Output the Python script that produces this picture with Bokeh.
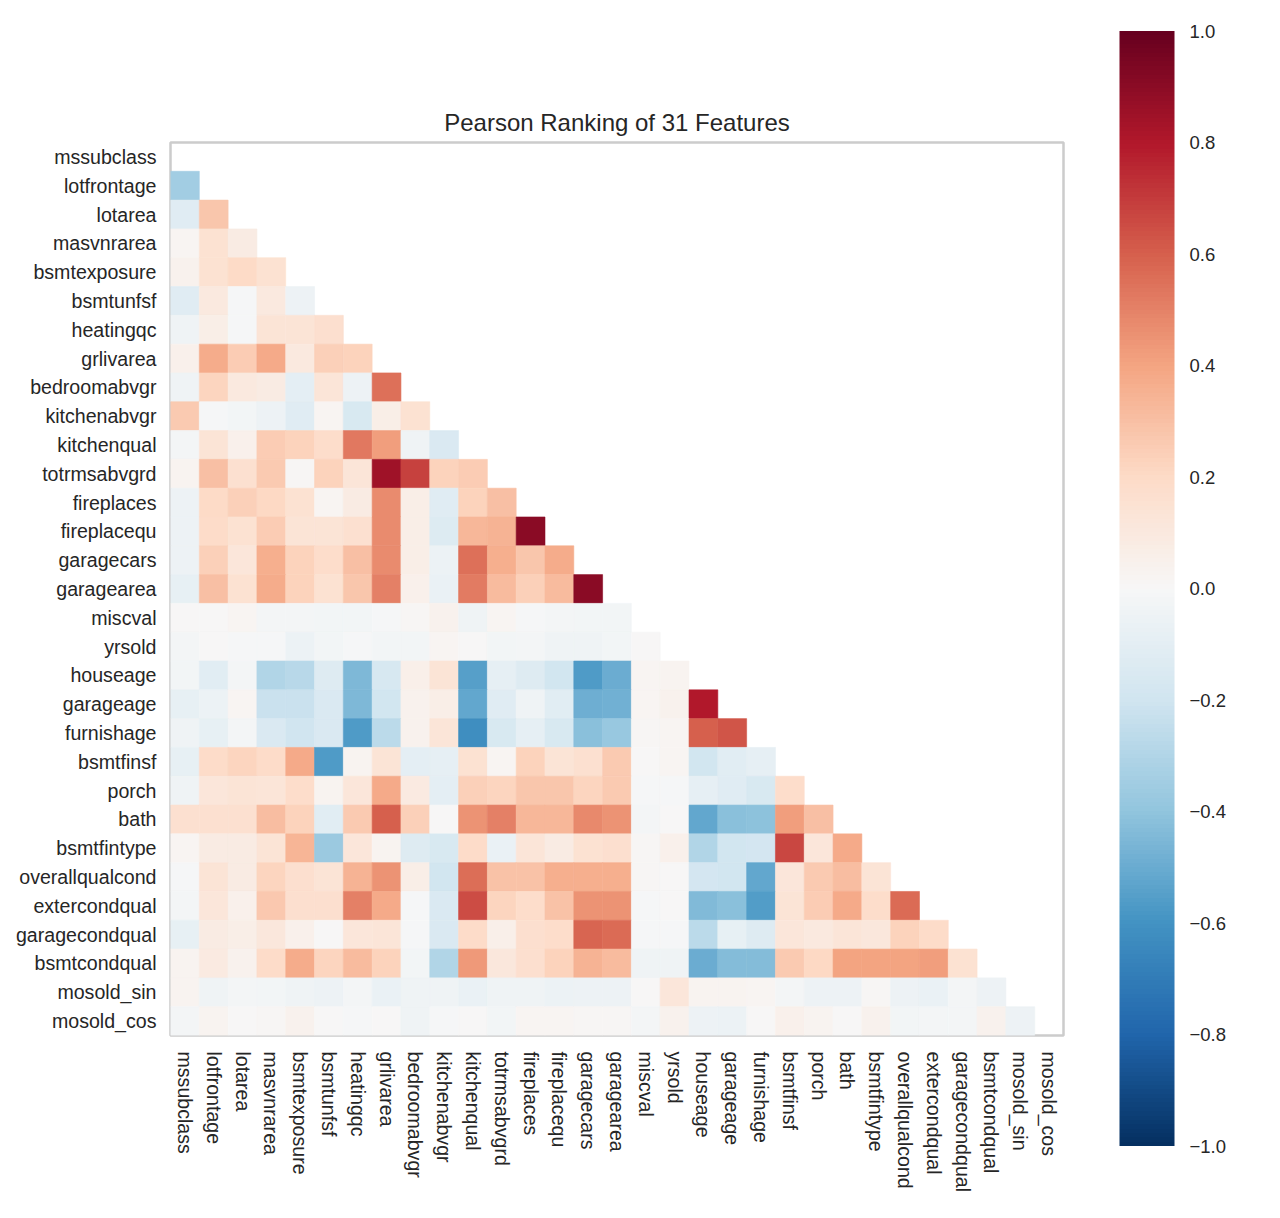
import numpy as np
from bokeh.plotting import figure
from bokeh.models import (ColumnDataSource, LinearColorMapper, FactorRange,
                          FixedTicker, CustomJSTickFormatter, ColorBar)
from bokeh.transform import transform
from bokeh.embed import file_html
from bokeh.resources import INLINE

features = ["mssubclass", "lotfrontage", "lotarea", "masvnrarea", "bsmtexposure",
            "bsmtunfsf", "heatingqc", "grlivarea", "bedroomabvgr", "kitchenabvgr",
            "kitchenqual", "totrmsabvgrd", "fireplaces", "fireplacequ", "garagecars",
            "garagearea", "miscval", "yrsold", "houseage", "garageage", "furnishage",
            "bsmtfinsf", "porch", "bath", "bsmtfintype", "overallqualcond",
            "extercondqual", "garagecondqual", "bsmtcondqual", "mosold_sin", "mosold_cos"]

# lower-triangle correlations: row i holds values against features[0..i-1]
r_lotfrontage = [-0.35]
r_lotarea = [-0.12, 0.28]
r_masvnrarea = [0.02, 0.15, 0.08]
r_bsmtexposure = [0.04, 0.15, 0.20, 0.15]
r_bsmtunfsf = [-0.12, 0.10, -0.01, 0.10, -0.05]
r_heatingqc = [-0.04, 0.07, -0.01, 0.14, 0.14, 0.17]
r_grlivarea = [0.05, 0.37, 0.25, 0.38, 0.10, 0.24, 0.23]
r_bedroomabvgr = [-0.04, 0.22, 0.10, 0.08, -0.10, 0.13, -0.05, 0.55]
r_kitchenabvgr = [0.26, -0.01, -0.03, -0.05, -0.12, 0.02, -0.16, 0.07, 0.15]
r_kitchenqual = [-0.02, 0.14, 0.05, 0.25, 0.23, 0.18, 0.53, 0.42, -0.04, -0.15]
r_totrmsabvgrd = [0.03, 0.30, 0.16, 0.26, 0.01, 0.23, 0.13, 0.85, 0.68, 0.23, 0.25]
r_fireplaces = [-0.05, 0.20, 0.24, 0.21, 0.15, 0.02, 0.08, 0.47, 0.07, -0.12, 0.23, 0.30]
r_fireplacequ = [-0.05, 0.19, 0.15, 0.25, 0.14, 0.14, 0.16, 0.47, 0.07, -0.14, 0.33, 0.35, 0.90]
r_garagecars = [-0.05, 0.24, 0.12, 0.36, 0.23, 0.18, 0.30, 0.47, 0.07, -0.06, 0.55, 0.36,
                0.28, 0.37]
r_garagearea = [-0.08, 0.30, 0.15, 0.37, 0.23, 0.15, 0.28, 0.50, 0.05, -0.07, 0.52, 0.32,
                0.24, 0.32, 0.90]
r_miscval = [0.0, 0.0, 0.02, -0.02, -0.02, -0.03, -0.03, -0.01, 0.01, 0.04, -0.04, 0.02,
             -0.01, -0.02, -0.03, -0.03]
r_yrsold = [-0.02, 0.0, -0.01, -0.01, -0.06, -0.03, -0.01, -0.03, -0.03, 0.02, 0.0, -0.03,
            -0.02, -0.04, -0.04, -0.03, 0.0]
r_houseage = [-0.03, -0.11, -0.02, -0.30, -0.28, -0.13, -0.45, -0.17, 0.06, 0.14, -0.55,
              -0.09, -0.13, -0.19, -0.57, -0.50, 0.02, 0.03]
r_garageage = [-0.08, -0.06, 0.02, -0.22, -0.22, -0.15, -0.45, -0.19, 0.04, 0.07, -0.52,
               -0.12, -0.04, -0.11, -0.49, -0.48, 0.02, 0.04, 0.80]
r_furnishage = [-0.04, -0.08, -0.02, -0.15, -0.20, -0.15, -0.57, -0.27, 0.04, 0.13, -0.62,
                -0.16, -0.09, -0.16, -0.42, -0.38, 0.01, 0.02, 0.60, 0.63]
r_bsmtfinsf = [-0.08, 0.19, 0.22, 0.19, 0.38, -0.57, 0.03, 0.14, -0.10, -0.09, 0.15, 0.02,
               0.23, 0.14, 0.16, 0.26, 0.0, 0.02, -0.19, -0.11, -0.09]
r_porch = [-0.04, 0.12, 0.14, 0.13, 0.18, 0.03, 0.12, 0.38, 0.09, -0.10, 0.24, 0.22, 0.28,
           0.28, 0.22, 0.26, -0.01, -0.01, -0.09, -0.12, -0.16, 0.18]
r_bath = [0.16, 0.16, 0.16, 0.31, 0.23, -0.11, 0.26, 0.60, 0.24, 0.0, 0.45, 0.50, 0.33,
          0.33, 0.48, 0.45, -0.02, 0.0, -0.52, -0.42, -0.41, 0.42, 0.30]
r_bsmtfintype = [0.02, 0.08, 0.08, 0.14, 0.34, -0.37, 0.12, 0.03, -0.13, -0.16, 0.19, -0.07,
                 0.13, 0.08, 0.15, 0.17, 0.01, 0.05, -0.30, -0.19, -0.18, 0.67, 0.12, 0.38]
r_overallqualcond = [-0.01, 0.14, 0.08, 0.22, 0.17, 0.14, 0.35, 0.45, 0.07, -0.19, 0.56,
                     0.29, 0.29, 0.36, 0.36, 0.36, 0.01, 0.0, -0.18, -0.19, -0.52, 0.12,
                     0.26, 0.31, 0.14]
r_extercondqual = [-0.02, 0.12, 0.05, 0.27, 0.17, 0.17, 0.50, 0.38, -0.01, -0.15, 0.65,
                   0.22, 0.18, 0.29, 0.45, 0.45, -0.01, 0.0, -0.44, -0.42, -0.56, 0.14,
                   0.25, 0.38, 0.18, 0.57]
r_garagecondqual = [-0.08, 0.08, 0.07, 0.11, 0.05, 0.0, 0.12, 0.13, -0.01, -0.15, 0.19,
                    0.06, 0.17, 0.18, 0.58, 0.57, -0.01, -0.01, -0.27, -0.08, -0.13, 0.12,
                    0.10, 0.13, 0.11, 0.23, 0.19]
r_bsmtcondqual = [0.03, 0.09, 0.04, 0.19, 0.37, 0.22, 0.32, 0.23, -0.03, -0.30, 0.43, 0.11,
                  0.17, 0.23, 0.35, 0.32, -0.04, -0.04, -0.50, -0.43, -0.43, 0.26, 0.21,
                  0.40, 0.40, 0.40, 0.42, 0.15]
r_mosold_sin = [0.03, -0.04, -0.02, -0.03, -0.04, -0.05, -0.02, -0.07, -0.04, -0.04, -0.07,
                -0.04, -0.04, -0.06, -0.05, -0.05, 0.0, 0.12, 0.03, 0.03, 0.02, -0.02,
                -0.05, -0.05, 0.01, -0.05, -0.07, -0.02, -0.05]
r_mosold_cos = [-0.02, 0.03, 0.0, 0.01, 0.04, 0.0, -0.01, 0.0, -0.04, -0.01, 0.0, -0.03,
                0.02, 0.02, 0.01, 0.01, -0.02, 0.04, -0.05, -0.06, 0.0, 0.05, 0.03, 0.0,
                0.04, -0.03, -0.02, -0.02, 0.04, -0.05]

lower_rows = [r_lotfrontage, r_lotarea, r_masvnrarea, r_bsmtexposure, r_bsmtunfsf,
              r_heatingqc, r_grlivarea, r_bedroomabvgr, r_kitchenabvgr, r_kitchenqual,
              r_totrmsabvgrd, r_fireplaces, r_fireplacequ, r_garagecars, r_garagearea,
              r_miscval, r_yrsold, r_houseage, r_garageage, r_furnishage, r_bsmtfinsf,
              r_porch, r_bath, r_bsmtfintype, r_overallqualcond, r_extercondqual,
              r_garagecondqual, r_bsmtcondqual, r_mosold_sin, r_mosold_cos]

cbar_ticks = [-1.0, -0.8, -0.6, -0.4, -0.2, 0.0, 0.2, 0.4, 0.6, 0.8, 1.0]
title_text = "Pearson Ranking of 31 Features"

# RdBu_r colormap (ColorBrewer anchors, linear interpolation)
anchors = ["#053061", "#2166ac", "#4393c3", "#92c5de", "#d1e5f0", "#f7f7f7",
           "#fddbc7", "#f4a582", "#d6604d", "#b2182b", "#67001f"]
arr = np.array([[int(h[k:k + 2], 16) for k in (1, 3, 5)] for h in anchors], dtype=float)
palette = []
for k in range(256):
    t = k / 255 * 10
    i = min(int(t), 9)
    f = t - i
    c = arr[i] * (1 - f) + arr[i + 1] * f
    palette.append("#%02x%02x%02x" % tuple(int(round(v)) for v in c))
mapper = LinearColorMapper(palette=palette, low=-1, high=1)

xs, ys, vs = [], [], []
for i, vals in enumerate(lower_rows, start=1):
    for j, v in enumerate(vals):
        xs.append(features[j])
        ys.append(features[i])
        vs.append(v)
src = ColumnDataSource(dict(x=xs, y=ys, v=vs))

FONT = "Liberation Sans"
TXT = "#262626"

p = figure(width=1272, height=1210,
           x_range=FactorRange(factors=features),
           y_range=FactorRange(factors=features[::-1]),
           output_backend="svg", toolbar_location=None,
           min_border_left=170, min_border_right=209,
           min_border_top=142, min_border_bottom=175,
           title=title_text)
p.rect(x="x", y="y", width=1, height=1, source=src,
       fill_color=transform("v", mapper), line_color=transform("v", mapper),
       line_width=0.6)

p.title.text_font = FONT
p.title.text_font_size = "24px"
p.title.text_font_style = "normal"
p.title.text_color = TXT
p.title.align = "center"
p.title.standoff = 13

for ax in (p.xaxis[0], p.yaxis[0]):
    ax.axis_line_color = None
    ax.major_tick_line_color = None
    ax.minor_tick_line_color = None
    ax.major_tick_in = 0
    ax.major_tick_out = 0
    ax.major_label_text_font = FONT
    ax.major_label_text_font_size = "19.6px"
    ax.major_label_text_color = TXT
p.yaxis[0].major_label_standoff = 14
p.xaxis[0].major_label_standoff = 16
p.xaxis[0].major_label_orientation = "vertical"

p.xgrid.grid_line_color = None
p.ygrid.grid_line_color = None
p.outline_line_color = "#cccccc"
p.outline_line_width = 2.5
p.background_fill_color = "white"
p.border_fill_color = "white"

cbar = ColorBar(color_mapper=mapper, orientation="vertical",
                location=(949, -110.5), width=55, height=1115, padding=0,
                ticker=FixedTicker(ticks=cbar_ticks),
                formatter=CustomJSTickFormatter(
                    code="return (tick < -1e-9 ? '\\u2212' : '') + Math.abs(tick).toFixed(1);"),
                major_tick_line_color=None, minor_tick_line_color=None,
                major_tick_in=0, major_tick_out=0,
                bar_line_color=None, border_line_color=None,
                background_fill_color=None,
                label_standoff=15,
                major_label_text_font=FONT,
                major_label_text_font_size="18.5px",
                major_label_text_color=TXT)
p.add_layout(cbar, "center")

open("out.html", "w").write(file_html(p, INLINE))
